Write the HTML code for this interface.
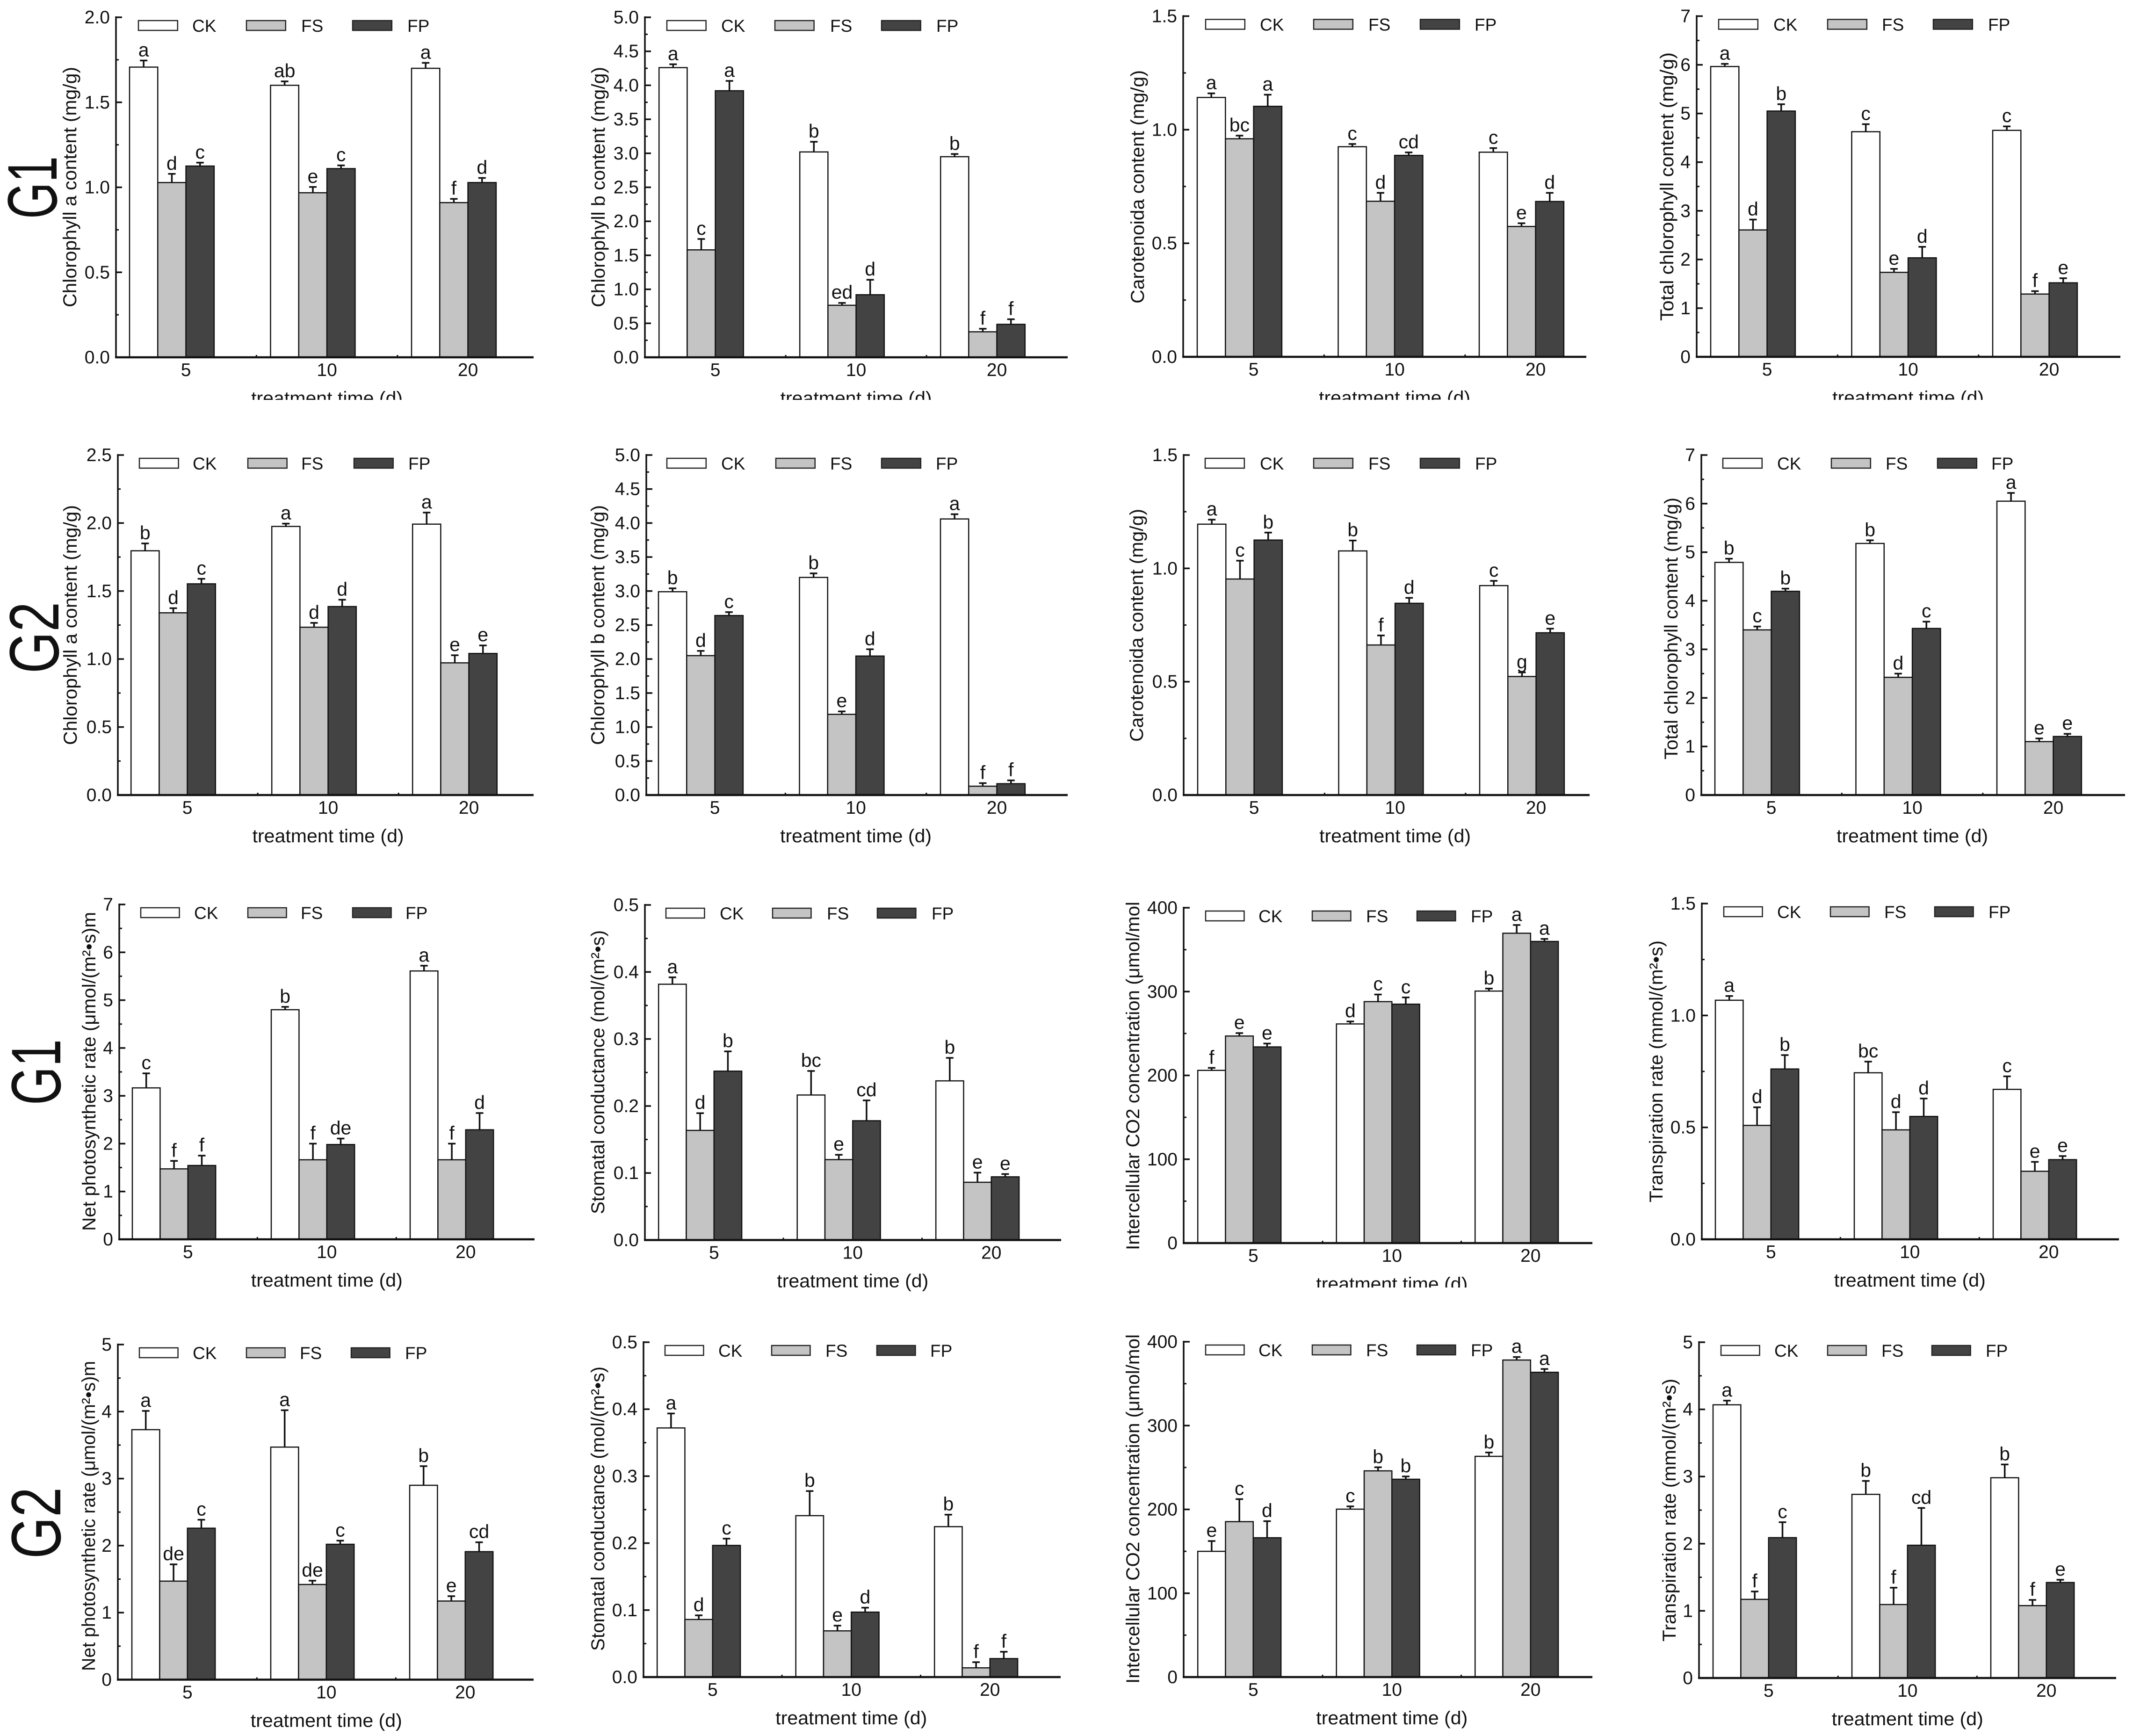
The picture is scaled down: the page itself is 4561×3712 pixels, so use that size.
<!DOCTYPE html>
<html lang="en">
<head>
<meta charset="utf-8">
<title>Chlorophyll and photosynthesis bar charts</title>
<style>
html,body{margin:0;padding:0;background:#fff;}
svg{display:block;}
text{font-family:"Liberation Sans",Arial,sans-serif;fill:#111;}
</style>
</head>
<body>
<svg id="figure" xmlns="http://www.w3.org/2000/svg" width="4561" height="3712" viewBox="0 0 4561 3712"></svg>
<script>
const categories = ['5', '10', '20'];
const seriesNames = ['CK', 'FS', 'FP'];
const xAxisTitle = 'treatment time (d)';
const yTitles = [
  'Chlorophyll a content (mg/g)', 'Chlorophyll b content (mg/g)', 'Carotenoida content (mg/g)', 'Total chlorophyll content (mg/g)',
  'Chlorophyll a content (mg/g)', 'Chlorophyll b content (mg/g)', 'Carotenoida content (mg/g)', 'Total chlorophyll content (mg/g)',
  'Net photosynthetic rate (μmol/(m²•s)m', 'Stomatal conductance (mol/(m²•s)', 'Intercellular CO2 concentration (μmol/mol', 'Transpiration rate (mmol/(m²•s)',
  'Net photosynthetic rate (μmol/(m²•s)m', 'Stomatal conductance (mol/(m²•s)', 'Intercellular CO2 concentration (μmol/mol', 'Transpiration rate (mmol/(m²•s)'
];
const yTickLabels = [
  ['0.0','0.5','1.0','1.5','2.0'],
  ['0.0','0.5','1.0','1.5','2.0','2.5','3.0','3.5','4.0','4.5','5.0'],
  ['0.0','0.5','1.0','1.5'],
  ['0','1','2','3','4','5','6','7'],
  ['0.0','0.5','1.0','1.5','2.0','2.5'],
  ['0.0','0.5','1.0','1.5','2.0','2.5','3.0','3.5','4.0','4.5','5.0'],
  ['0.0','0.5','1.0','1.5'],
  ['0','1','2','3','4','5','6','7'],
  ['0','1','2','3','4','5','6','7'],
  ['0.0','0.1','0.2','0.3','0.4','0.5'],
  ['0','100','200','300','400'],
  ['0.0','0.5','1.0','1.5'],
  ['0','1','2','3','4','5'],
  ['0.0','0.1','0.2','0.3','0.4','0.5'],
  ['0','100','200','300','400'],
  ['0','1','2','3','4','5']
];
const ckMeans = [
  [1.707,1.60,1.70],[4.26,3.02,2.95],[1.142,0.925,0.901],[5.965,4.625,4.653],
  [1.796,1.975,1.992],[2.99,3.20,4.06],[1.195,1.077,0.924],[4.79,5.18,6.05],
  [3.166,4.80,5.61],[0.3817,0.2164,0.2375],[206,261.4,300.6],[1.068,0.744,0.67],
  [3.73,3.47,2.90],[0.372,0.241,0.2246],[150,200.3,263.3],[4.068,2.735,2.982]
];
const fsMeans = [
  [1.028,0.968,0.91],[1.58,0.765,0.375],[0.96,0.685,0.574],[2.607,1.736,1.29],
  [1.34,1.234,0.972],[2.05,1.187,0.13],[0.953,0.662,0.523],[3.40,2.424,1.10],
  [1.473,1.663,1.663],[0.1636,0.12,0.0862],[247,288,369.6],[0.509,0.489,0.304],
  [1.47,1.42,1.173],[0.086,0.069,0.0138],[185.4,246,378.2],[1.171,1.094,1.078]
];
const fpMeans = [
  [1.125,1.11,1.028],[3.92,0.92,0.485],[1.103,0.887,0.684],[5.05,2.034,1.521],
  [1.553,1.386,1.041],[2.64,2.044,0.167],[1.125,0.846,0.716],[4.195,3.43,1.206],
  [1.544,1.982,2.29],[0.252,0.178,0.0943],[234,285,359.8],[0.761,0.549,0.356],
  [2.26,2.02,1.91],[0.1966,0.097,0.0276],[166.2,236,363.6],[2.09,1.977,1.422]
];
const ckUpper = [
  [1.746,1.623,1.732],[4.31,3.17,2.99],[1.16,0.937,0.919],[6.02,4.78,4.735],
  [1.85,1.996,2.077],[3.04,3.26,4.13],[1.215,1.123,0.945],[4.866,5.245,6.22],
  [3.47,4.86,5.72],[0.392,0.2523,0.2718],[209,264.4,303.6],[1.087,0.794,0.728],
  [4.01,4.02,3.186],[0.3936,0.2778,0.2425],[162.3,203.6,267.9],[4.13,2.934,3.18]
];
const fsUpper = [
  [1.079,1.002,0.932],[1.74,0.80,0.42],[0.974,0.722,0.588],[2.82,1.808,1.35],
  [1.374,1.266,1.028],[2.12,1.23,0.175],[1.034,0.704,0.541],[3.47,2.5,1.165],
  [1.64,2.0,2.0],[0.1893,0.1272,0.1006],[250.5,296.5,379.4],[0.59,0.568,0.346],
  [1.72,1.477,1.246],[0.0922,0.0768,0.0223],[212.3,250.3,381.8],[1.288,1.345,1.163]
];
const fpUpper = [
  [1.145,1.129,1.055],[4.065,1.14,0.56],[1.154,0.90,0.722],[5.19,2.26,1.615],
  [1.59,1.436,1.10],[2.69,2.144,0.216],[1.158,0.87,0.734],[4.25,3.57,1.26],
  [1.75,2.107,2.64],[0.2815,0.2084,0.0985],[238,293,362.8],[0.823,0.629,0.372],
  [2.386,2.074,2.05],[0.2067,0.1036,0.0378],[186,239.3,367.5],[2.32,2.532,1.463]
];
const ckLetters = [
  ['a','ab','a'],['a','b','b'],['a','c','c'],['a','c','c'],
  ['b','a','a'],['b','b','a'],['a','b','c'],['b','b','a'],
  ['c','b','a'],['a','bc','b'],['f','d','b'],['a','bc','c'],
  ['a','a','b'],['a','b','b'],['e','c','b'],['a','b','b']
];
const fsLetters = [
  ['d','e','f'],['c','ed','f'],['bc','d','e'],['d','e','f'],
  ['d','d','e'],['d','e','f'],['c','f','g'],['c','d','e'],
  ['f','f','f'],['d','e','e'],['e','c','a'],['d','d','e'],
  ['de','de','e'],['d','e','f'],['c','b','a'],['f','f','f']
];
const fpLetters = [
  ['c','c','d'],['a','d','f'],['a','cd','d'],['b','d','e'],
  ['c','d','e'],['c','d','f'],['b','d','e'],['b','c','e'],
  ['f','de','d'],['b','cd','e'],['e','c','a'],['b','d','e'],
  ['c','c','cd'],['c','d','f'],['d','b','a'],['c','cd','e']
];
const groupLabels = ['G1', 'G2', 'G1', 'G2'];

/* Page layout only: frame of each panel, no chart values. */
const panelFrames = [
  {ax:248, top:37,  base:764,  xEnd:1141, tick0:397.6,  step:301.5, tx:152,  t0:143,  t1:657,  sw:[296,527,754],    lt:[411,644,871],    clip:855},
  {ax:1379,top:37,  base:764,  xEnd:2283, tick0:1529.6, step:301,   tx:1282, t0:143,  t1:657,  sw:[1426,1657,1885], lt:[1542,1775,2002], clip:855},
  {ax:2530,top:34.5,base:763,  xEnd:3392, tick0:2680.6, step:301.5, tx:2435, t0:150,  t1:649,  sw:[2578,2809,3037], lt:[2694,2926,3153], clip:855},
  {ax:3628,top:34.5,base:763,  xEnd:4534, tick0:3778.6, step:301.5, tx:3567, t0:112,  t1:686,  sw:[3675,3908,4134], lt:[3792,4024,4251], clip:855},
  {ax:252, top:973, base:1700, xEnd:1141, tick0:400.6,  step:301,   tx:153,  t0:1080, t1:1593, sw:[298,530,757],    lt:[412,644,873]},
  {ax:1382,top:973, base:1700, xEnd:2283, tick0:1528.6, step:301.5, tx:1281, t0:1080, t1:1593, sw:[1426,1659,1885], lt:[1542,1775,2001]},
  {ax:2531,top:973, base:1700, xEnd:3399, tick0:2681.6, step:301.5, tx:2433, t0:1088, t1:1586, sw:[2577,2809,3037], lt:[2694,2926,3154]},
  {ax:3638,top:973, base:1700, xEnd:4544, tick0:3787.6, step:301.5, tx:3576, t0:1064, t1:1624, sw:[3684,3916,4143], lt:[3800,4032,4258]},
  {ax:255, top:1934,base:2650, xEnd:1143, tick0:401.8,  step:297,   tx:193,  t0:1950, t1:2632, sw:[301,530,754],    lt:[415,643,867]},
  {ax:1379,top:1935,base:2651.5,xEnd:2269,tick0:1526.8, step:296.5, tx:1281, t0:1989, t1:2596, sw:[1424,1652,1876], lt:[1539,1768,1992]},
  {ax:2531,top:1941,base:2658, xEnd:3405, tick0:2679.8, step:296.5, tx:2425, t0:1928, t1:2673, sw:[2578,2806,3030], lt:[2691,2921,3145], clip:2753},
  {ax:3639,top:1932,base:2650, xEnd:4531, tick0:3786.8, step:297,   tx:3544, t0:2011, t1:2571, sw:[3686,3914,4137], lt:[3800,4029,4252]},
  {ax:252, top:2875,base:3591.5,xEnd:1141,tick0:400.8,  step:297,   tx:192,  t0:2910, t1:3573, sw:[298,527,751],    lt:[412,641,866]},
  {ax:1376,top:2870,base:3586, xEnd:2268, tick0:1523.8, step:296.5, tx:1281, t0:2922, t1:3530, sw:[1422,1650,1875], lt:[1536,1765,1989]},
  {ax:2531,top:2869,base:3586, xEnd:3405, tick0:2679.8, step:296.5, tx:2425, t0:2853, t1:3600, sw:[2578,2806,3030], lt:[2691,2921,3145]},
  {ax:3633,top:2870,base:3588, xEnd:4525, tick0:3781.8, step:297,   tx:3572, t0:2948, t1:3510, sw:[3680,3908,4131], lt:[3794,4023,4246]}
];
const groupLabelFrames = [
  {right:121, bottom:468,  length:134},
  {right:125, bottom:1440, length:153},
  {right:129, bottom:2363, length:141},
  {right:129, bottom:3333, length:153}
];
const seriesFills = ['#ffffff', '#c4c4c4', '#434343'];

const NS = 'http://www.w3.org/2000/svg';
const root = document.getElementById('figure');

function make(tag, attrs, parent, content) {
  const node = document.createElementNS(NS, tag);
  for (const key in attrs) node.setAttribute(key, attrs[key]);
  if (content !== undefined) node.textContent = content;
  parent.appendChild(node);
  return node;
}

const defs = make('defs', {}, root);

groupLabels.forEach(function (label, i) {
  const f = groupLabelFrames[i];
  const el = make('text', {
    transform: 'translate(' + f.right + ',' + f.bottom + ') rotate(-90)',
    'font-size': 150, textLength: f.length, lengthAdjust: 'spacingAndGlyphs'
  }, root, label);
  
  
});

panelFrames.forEach(function (f, p) {
  const g = make('g', {}, root);
  
  

  const labels = yTickLabels[p];
  const yMax = parseFloat(labels[labels.length - 1]);
  const yScale = function (v) { return f.base - (v / yMax) * (f.base - f.top); };
  const xTick = function (i) { return f.tick0 + i * f.step; };
  const barWidth = f.step / 5;
  const means = [ckMeans[p], fsMeans[p], fpMeans[p]];
  const uppers = [ckUpper[p], fsUpper[p], fpUpper[p]];
  const letters = [ckLetters[p], fsLetters[p], fpLetters[p]];

  /* y ticks */
  labels.forEach(function (label, i) {
    const v = parseFloat(label);
    const y = yScale(v);
    const tick = make('line', {x1: f.ax, x2: f.ax + 13, y1: y, y2: y, stroke: '#111', 'stroke-width': 3.5}, g);
    
    
    const tl = make('text', {x: f.ax - 13, y: y + 13, 'text-anchor': 'end', 'font-size': 39}, g, label);
    
    
    if (i < labels.length - 1) {
      const ym = yScale((v + parseFloat(labels[i + 1])) / 2);
      const minor = make('line', {x1: f.ax, x2: f.ax + 6, y1: ym, y2: ym, stroke: '#111', 'stroke-width': 3}, g);
      
      
    }
  });

  /* x minor ticks */
  categories.forEach(function (c, i) {
    if (i < categories.length - 1) {
      const xm = (xTick(i) + xTick(i + 1)) / 2;
      const mt = make('line', {x1: xm, x2: xm, y1: f.base - 5, y2: f.base, stroke: '#111', 'stroke-width': 3}, g);
      
      
    }
  });

  /* bars, error bars and significance letters */
  categories.forEach(function (c, i) {
    seriesNames.forEach(function (s, k) {
      const left = xTick(i) + (k - 2) * barWidth;
      const yv = yScale(means[k][i]);
      const bar = make('rect', {
        x: left, y: yv, width: barWidth, height: f.base - yv,
        fill: seriesFills[k], stroke: '#111', 'stroke-width': 2.5
      }, g);
      
      

      const cx = left + barWidth / 2;
      const yu = yScale(uppers[k][i]);
      const stem = make('line', {x1: cx, x2: cx, y1: yv, y2: yu, stroke: '#111', 'stroke-width': 3.5}, g);
      
      
      const cap = make('line', {x1: cx - 8, x2: cx + 8, y1: yu, y2: yu, stroke: '#111', 'stroke-width': 3.5}, g);
      
      

      const letter = make('text', {x: cx, y: yu - 9, 'text-anchor': 'middle', 'font-size': 41}, g, letters[k][i]);
      
      
    });
    const xl = make('text', {x: xTick(i), y: f.base + 40, 'text-anchor': 'middle', 'font-size': 39}, g, c);
    
    
  });

  /* axes */
  const yAxis = make('line', {x1: f.ax, x2: f.ax, y1: f.top - 2, y2: f.base + 2, stroke: '#111', 'stroke-width': 3.5}, g);
  
  
  const xAxis = make('line', {x1: f.ax - 2, x2: f.xEnd, y1: f.base, y2: f.base, stroke: '#111', 'stroke-width': 4.5}, g);
  
  

  /* axis titles */
  const titleMid = (f.t0 + f.t1) / 2;
  const yt = make('text', {
    transform: 'translate(' + (f.tx + 11) + ',' + titleMid + ') rotate(-90)',
    'text-anchor': 'middle', 'font-size': 40,
    textLength: f.t1 - f.t0, lengthAdjust: 'spacingAndGlyphs'
  }, g, yTitles[p]);
  
  

  const xtAttrs = {
    x: xTick(1), y: f.base + 101, 'text-anchor': 'middle', 'font-size': 40,
    textLength: 324, lengthAdjust: 'spacingAndGlyphs'
  };
  if (f.clip) {
    const cp = make('clipPath', {id: 'clip-x-title-' + p}, defs);
    make('rect', {x: f.ax, y: f.base, width: f.xEnd - f.ax, height: f.clip - f.base}, cp);
    xtAttrs['clip-path'] = 'url(#clip-x-title-' + p + ')';
  }
  const xt = make('text', xtAttrs, g, xAxisTitle);
  
  

  /* legend */
  const swatchWidth = f.step * 0.278;
  seriesNames.forEach(function (s, k) {
    const sw = make('rect', {
      x: f.sw[k], y: f.top + 7, width: swatchWidth, height: 21,
      fill: seriesFills[k], stroke: '#222', 'stroke-width': 2.5
    }, g);
    
    
    const lt = make('text', {x: f.lt[k], y: f.top + 31, 'font-size': 37}, g, s);
    
    
  });
});
</script>
</body>
</html>
